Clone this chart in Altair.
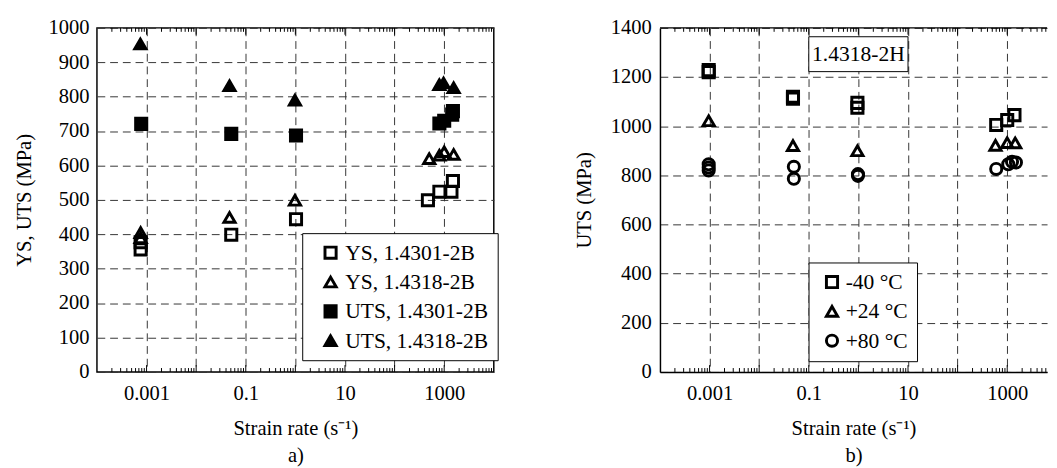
import altair as alt
import pandas as pd

FONT = "Liberation Serif"

# ---------------- Panel a) data ----------------
a_series = ["YS, 1.4301-2B", "YS, 1.4318-2B", "UTS, 1.4301-2B", "UTS, 1.4318-2B"]
a_ys4301_rate = [0.00076, 0.00076, 0.051, 1.03, 470, 800, 1400, 1500]
a_ys4301_val = [377, 356, 399, 444, 499, 524, 524, 555]
a_ys4318_rate = [0.00076, 0.00076, 0.047, 0.98, 500, 800, 1000, 1550]
a_ys4318_val = [405, 390, 449, 499, 620, 630, 640, 632]
a_uts4301_rate = [0.00078, 0.051, 1.03, 800, 1000, 1450, 1500]
a_uts4301_val = [721, 692, 687, 722, 730, 748, 758]
a_uts4318_rate = [0.00075, 0.047, 0.98, 800, 970, 1550]
a_uts4318_val = [953, 832, 790, 835, 840, 826]

# ---------------- Panel b) data ----------------
b_series = ["-40 °C", "+24 °C", "+80 °C"]
b_m40_rate = [0.00096, 0.00096, 0.048, 0.048, 0.955, 0.955, 600, 1000, 1400]
b_m40_val = [1228, 1220, 1120, 1112, 1095, 1075, 1005, 1025, 1045]
b_p24_rate = [0.00096, 0.048, 0.955, 580, 1000, 1450]
b_p24_val = [1022, 921, 900, 922, 933, 932]
b_p80_rate = [0.00096, 0.00096, 0.00096, 0.05, 0.05, 0.98, 0.98, 600, 1050, 1250, 1500]
b_p80_val = [845, 832, 820, 835, 786, 805, 798, 826, 845, 855, 852]

b_note = ["1.4318-2H"]
b_note_x = [0.1, 10]
b_note_y = [1222, 1364]

# ---------------- axis ticks ----------------
grid_vals = [1e-3, 1e-2, 1e-1, 1, 10, 100, 1000]
minor_vals_a = [k * 10.0 ** e for e in range(-4, 4) for k in range(2, 10)]
minor_vals_b = [v for v in minor_vals_a if v < 6900]
major_vals = [10.0 ** e for e in range(-3, 4)]
a_yticks = list(range(0, 1001, 100))
b_yticks = list(range(0, 1401, 200))

DEC = 50.75                    # pixels per decade
WA, H = int(8 * DEC), 352      # panel a spans 1e-4 .. 1e4
WB = 396                       # panel b is cut off at the page edge
B_XMAX = 10 ** (-4 + WB / DEC)

df_a = pd.concat([
    pd.DataFrame({"rate": a_ys4301_rate, "value": a_ys4301_val, "series": a_series[0]}),
    pd.DataFrame({"rate": a_ys4318_rate, "value": a_ys4318_val, "series": a_series[1]}),
    pd.DataFrame({"rate": a_uts4301_rate, "value": a_uts4301_val, "series": a_series[2]}),
    pd.DataFrame({"rate": a_uts4318_rate, "value": a_uts4318_val, "series": a_series[3]}),
])
df_b = pd.concat([
    pd.DataFrame({"rate": b_m40_rate, "value": b_m40_val, "temp": b_series[0]}),
    pd.DataFrame({"rate": b_p24_rate, "value": b_p24_val, "temp": b_series[1]}),
    pd.DataFrame({"rate": b_p80_rate, "value": b_p80_val, "temp": b_series[2]}),
])

label_expr = "(round(log(datum.value)/LN10) % 2 != 0) ? format(datum.value, '~g') : ''"


def x_axis(sub, dom):
    return alt.Axis(values=grid_vals, labelExpr=label_expr, grid=True, ticks=False,
                    domain=dom, domainColor="black", domainWidth=1.5,
                    labelPadding=11, titlePadding=15, titleLineHeight=28,
                    labelOverlap=False, labelFlush=False,
                    title=["Strain rate (s\u207b\u00b9)", sub])


def y_axis(vals, title, lp, tp, dom):
    return alt.Axis(values=vals, format="d", grid=True, ticks=False,
                    domain=dom, domainColor="black", domainWidth=1.5,
                    labelPadding=lp, titlePadding=tp, title=title)


def tick_layers(xscale, xax, minor):
    layers = []
    for vals, length in ((minor, 4), (major_vals, 7)):
        d = pd.DataFrame({"rate": vals})
        layers.append(alt.Chart(d).mark_rule(color="black", strokeWidth=1).encode(
            x=alt.X("rate:Q", scale=xscale, axis=xax), y=alt.value(H), y2=alt.value(H - length)))
        layers.append(alt.Chart(d).mark_rule(color="black", strokeWidth=1).encode(
            x=alt.X("rate:Q", scale=xscale, axis=xax), y=alt.value(0), y2=alt.value(length)))
    return layers


def legend(lx, ly, soff, loff):
    return alt.Legend(orient="none", legendX=lx, legendY=ly, title=None,
                      strokeColor="black", fillColor="white", padding=9, rowPadding=7,
                      symbolSize=130, symbolStrokeWidth=3,
                      symbolOffset=soff, labelOffset=loff, labelFont=FONT,
                      labelFontSize=22, labelColor="black")


# ---------------- panel a ----------------
xs_a = alt.Scale(type="log", domain=[1e-4, 1e4], nice=False)
xax_a = x_axis("a)", False)
ys_a = alt.Scale(domain=[0, 1000], nice=False)
yax_a = y_axis(a_yticks, "YS, UTS (MPa)", 8, 14, False)
leg_a = legend(210, 210, 9, 4)
pts_a = alt.Chart(df_a).mark_point(size=130, strokeWidth=3, opacity=1).encode(
    x=alt.X("rate:Q", scale=xs_a, axis=xax_a),
    y=alt.Y("value:Q", scale=ys_a, axis=yax_a),
    shape=alt.Shape("series:N", scale=alt.Scale(domain=a_series,
                    range=["square", "triangle-up", "square", "triangle-up"]), legend=leg_a),
    fill=alt.Fill("series:N", scale=alt.Scale(domain=a_series,
                  range=["transparent", "transparent", "black", "black"]), legend=leg_a),
    stroke=alt.Stroke("series:N", scale=alt.Scale(domain=a_series,
                      range=["black", "black", "black", "black"]), legend=leg_a),
)
panel_a = alt.layer(*tick_layers(xs_a, xax_a, minor_vals_a), pts_a).properties(
    width=WA, height=H)

# ---------------- panel b ----------------
xs_b = alt.Scale(type="log", domain=[1e-4, B_XMAX], nice=False)
xax_b = x_axis("b)", True)
ys_b = alt.Scale(domain=[0, 1400], nice=False)
yax_b = y_axis(b_yticks, "UTS (MPa)", 9, 16, True)
leg_b = legend(152, 240, 4, 3)
pts_b = alt.Chart(df_b).mark_point(size=130, strokeWidth=3, opacity=1).encode(
    x=alt.X("rate:Q", scale=xs_b, axis=xax_b),
    y=alt.Y("value:Q", scale=ys_b, axis=yax_b),
    shape=alt.Shape("temp:N", scale=alt.Scale(domain=b_series,
                    range=["square", "triangle-up", "circle"]), legend=leg_b),
    fill=alt.Fill("temp:N", scale=alt.Scale(domain=b_series,
                  range=["transparent", "transparent", "transparent"]), legend=leg_b),
    stroke=alt.Stroke("temp:N", scale=alt.Scale(domain=b_series,
                      range=["black", "black", "black"]), legend=leg_b),
)
note_df = pd.DataFrame({"x1": [b_note_x[0]], "x2": [b_note_x[1]], "y1": [b_note_y[0]],
                        "y2": [b_note_y[1]], "label": b_note})
note_df["xc"] = (note_df["x1"] * note_df["x2"]) ** 0.5
note_df["yc"] = (note_df["y1"] + note_df["y2"]) / 2
note_rect = alt.Chart(note_df).mark_rect(fill="white", stroke="black", strokeWidth=1).encode(
    x=alt.X("x1:Q", scale=xs_b, axis=xax_b), x2="x2:Q",
    y=alt.Y("y1:Q", scale=ys_b, axis=yax_b), y2="y2:Q")
note_text = alt.Chart(note_df).mark_text(font=FONT, fontSize=22, color="black").encode(
    x=alt.X("xc:Q", scale=xs_b, axis=xax_b), y=alt.Y("yc:Q", scale=ys_b, axis=yax_b),
    text="label:N")
top_border = alt.Chart(note_df).mark_rule(color="black", strokeWidth=1.5).encode(
    x=alt.value(0), x2=alt.value(WB), y=alt.value(0))
panel_b = alt.layer(*tick_layers(xs_b, xax_b, minor_vals_b), note_rect, note_text,
                    top_border, pts_b).properties(
    width=WB, height=H, view=alt.ViewBackground(stroke="transparent"))

chart = alt.hconcat(panel_a, panel_b, spacing=75).resolve_scale(
    x="independent", y="independent", shape="independent", fill="independent",
    stroke="independent"
).resolve_legend(shape="independent", fill="independent", stroke="independent").properties(
    padding={"left": 5, "top": 3, "right": 0, "bottom": 0}
).configure(font=FONT).configure_view(
    stroke="black", strokeWidth=1.5
).configure_axis(
    labelFont=FONT, titleFont=FONT, labelFontSize=21, titleFontSize=21,
    titleFontWeight="normal", labelColor="black", titleColor="black",
    gridColor="#333333", gridDash=[8, 5], gridWidth=1, gridOpacity=1
)

chart.save("out.html", embed_options={"renderer": "svg", "actions": False})
